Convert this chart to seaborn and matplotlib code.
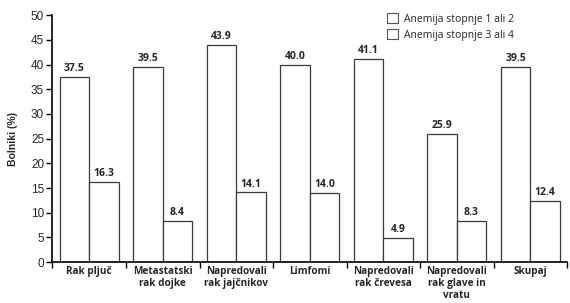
import matplotlib

matplotlib.use("Agg")
import matplotlib.pyplot as plt
import pandas as pd
import seaborn as sns
from matplotlib.patches import Patch

categories = [
    "Rak pljuč",
    "Metastatski\nrak dojke",
    "Napredovali\nrak jajčnikov",
    "Limfomi",
    "Napredovali\nrak črevesa",
    "Napredovali\nrak glave in\nvratu",
    "Skupaj",
]
series = ["Anemija stopnje 1 ali 2", "Anemija stopnje 3 ali 4"]
grade_12 = [37.5, 39.5, 43.9, 40.0, 41.1, 25.9, 39.5]
grade_34 = [16.3, 8.4, 14.1, 14.0, 4.9, 8.3, 12.4]

df = pd.DataFrame(
    {
        "kategorija": categories * 2,
        "serija": [series[0]] * len(categories) + [series[1]] * len(categories),
        "vrednost": grade_12 + grade_34,
    }
)

sns.set_theme(style="white")
plt.rcParams["font.family"] = ["Liberation Sans", "DejaVu Sans"]

fig = plt.figure(figsize=(5.7, 3.03), dpi=100)
ax = fig.add_axes([0.092, 0.135, 0.903, 0.815])

sns.barplot(
    data=df, x="kategorija", y="vrednost", hue="serija",
    order=categories, hue_order=series, ax=ax, legend=False,
    color="white", saturation=1,
)
edge = "#3a3a3a"
for p in ax.patches:
    p.set_facecolor("white")
    p.set_edgecolor(edge)
    p.set_linewidth(0.9)

lab_font = dict(family=["Open Sans", "DejaVu Sans"], fontweight="bold")
for cont in ax.containers:
    ax.bar_label(cont, fmt="%.1f", padding=2, fontsize=7.5, **lab_font)

ax.set_xlim(-0.5, len(categories) - 0.5)
ax.set_ylim(0, 50)
ax.set_yticks(range(0, 51, 5))
ax.tick_params(axis="y", direction="out", length=4, width=1, color="black",
               labelsize=8.5, pad=2, left=True)

# boundaries as major ticks, labels on minor ticks at group centres
ax.set_xticks([i - 0.5 for i in range(len(categories) + 1)])
ax.set_xticklabels([])
ax.set_xticks(range(len(categories)), minor=True)
ax.set_xticklabels(categories, minor=True, fontsize=7.2, va="top",
                   linespacing=1.08, **lab_font)
ax.tick_params(axis="x", which="major", direction="out", length=4, width=1,
               color="black", bottom=True)
ax.tick_params(axis="x", which="minor", length=0, pad=3)

for side in ("top", "right"):
    ax.spines[side].set_visible(False)
for side in ("left", "bottom"):
    ax.spines[side].set_color("black")
    ax.spines[side].set_linewidth(1.2)

ax.set_xlabel("")
ax.set_ylabel("Bolniki (%)", fontsize=7.5, fontweight="bold", labelpad=9)

handles = [Patch(facecolor="white", edgecolor="#555555", linewidth=0.8, label=s)
           for s in series]
ax.legend(handles=handles, loc="upper left", bbox_to_anchor=(0.632, 1.045),
          frameon=False, handlelength=1.0, handleheight=1.0,
          handletextpad=0.6, labelspacing=0.45,
          prop={"family": ["Open Sans", "DejaVu Sans"], "size": 7.5})

fig.savefig("out.png", dpi=100)
